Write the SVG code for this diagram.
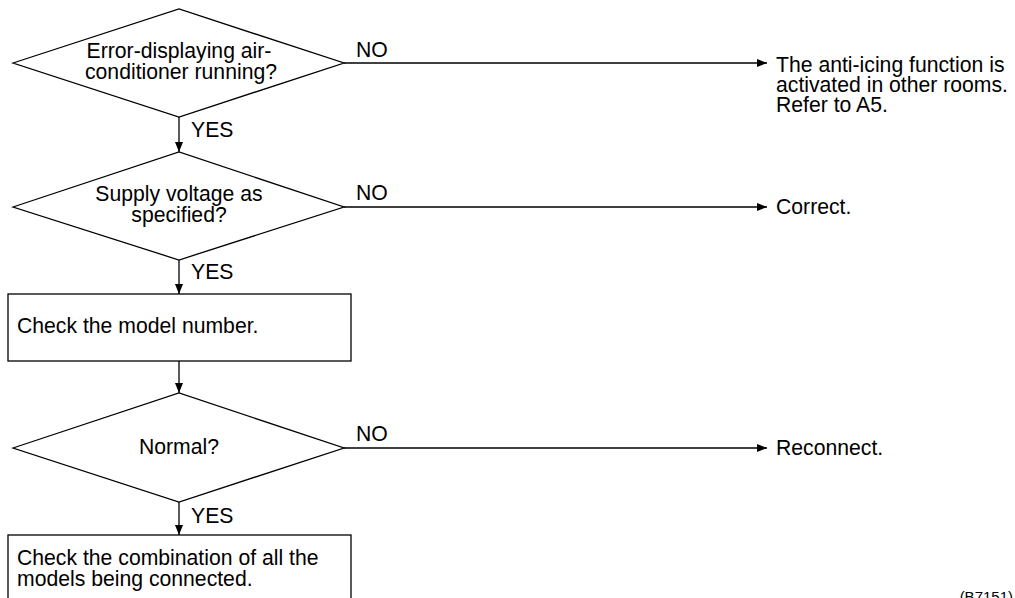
<svg xmlns="http://www.w3.org/2000/svg" width="1015" height="598" viewBox="0 0 1015 598">
<style>
.shape{fill:#fff;stroke:#000;stroke-width:1.3}
.conn{fill:none;stroke:#000;stroke-width:1.3}
text{font-family:"Liberation Sans",Arial,sans-serif;font-size:21.2px;fill:#000}
.c{text-anchor:middle}
.sm{font-size:15px}
</style>
<defs>
<marker id="ah" viewBox="0 0 10 8" refX="10" refY="4" markerWidth="10" markerHeight="8" markerUnits="userSpaceOnUse" orient="auto">
<path d="M0,0 L10,4 L0,8 Z" fill="#000"/>
</marker>
</defs>
<rect width="1015" height="598" fill="#fff"/>
<g id="connectors">
<line class="conn" x1="179" y1="117" x2="179" y2="152" marker-end="url(#ah)"/>
<line class="conn" x1="344" y1="63" x2="767" y2="63" marker-end="url(#ah)"/>
<line class="conn" x1="179" y1="260" x2="179" y2="294" marker-end="url(#ah)"/>
<line class="conn" x1="344" y1="207" x2="767" y2="207" marker-end="url(#ah)"/>
<line class="conn" x1="179" y1="361" x2="179" y2="393" marker-end="url(#ah)"/>
<line class="conn" x1="344" y1="448" x2="767" y2="448" marker-end="url(#ah)"/>
<line class="conn" x1="179" y1="502" x2="179" y2="535" marker-end="url(#ah)"/>
<text x="191" y="137">YES</text>
<text x="356" y="57">NO</text>
<text x="191" y="279">YES</text>
<text x="356" y="200">NO</text>
<text x="356" y="441">NO</text>
<text x="191" y="523">YES</text>
</g>
<g id="d1">
<polygon class="shape" points="13,63 179,9 344,63 179,117"/>
<text class="c" x="179" y="58">Error-displaying air-</text>
<text class="c" x="181" y="79">conditioner running?</text>
</g>
<g id="t1">
<text x="776" y="72">The anti-icing function is</text>
<text x="776" y="92">activated in other rooms.</text>
<text x="776" y="112">Refer to A5.</text>
</g>
<g id="d2">
<polygon class="shape" points="13,207 179,152 344,207 179,260"/>
<text class="c" x="179" y="201">Supply voltage as</text>
<text class="c" x="179" y="222">specified?</text>
</g>
<g id="t2">
<text x="776" y="214">Correct.</text>
</g>
<g id="b1">
<rect class="shape" x="8" y="294" width="343" height="67"/>
<text x="17" y="333">Check the model number.</text>
</g>
<g id="d3">
<polygon class="shape" points="13,448 179,393 344,448 179,502"/>
<text class="c" x="179" y="454">Normal?</text>
</g>
<g id="t3">
<text x="776" y="455">Reconnect.</text>
</g>
<g id="b2">
<rect class="shape" x="8" y="535" width="343" height="80"/>
<text x="17" y="565">Check the combination of all the</text>
<text x="17" y="586">models being connected.</text>
</g>
<text class="sm" x="1013" y="602" text-anchor="end">(B7151)</text>
</svg>
